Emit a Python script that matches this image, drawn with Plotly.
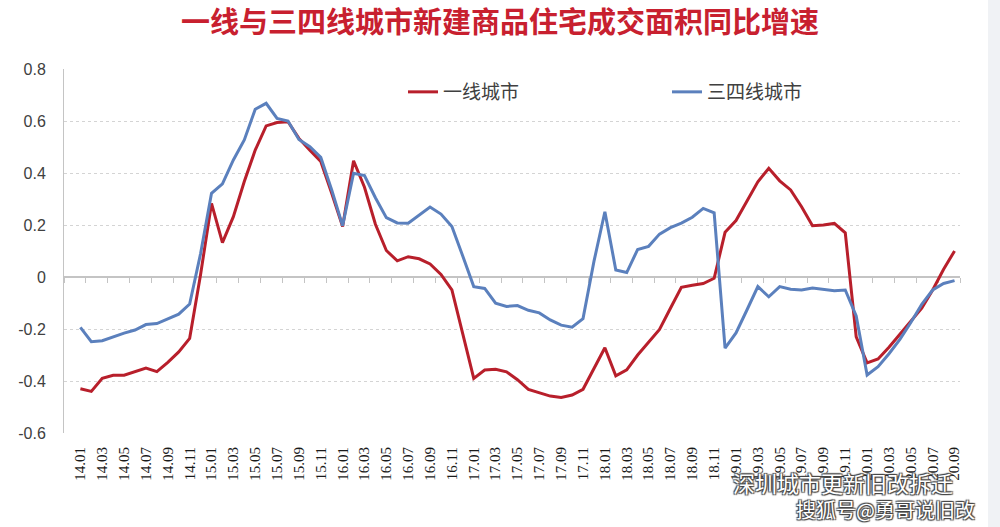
import plotly.graph_objects as go

# ---------------- data ----------------
months = [
    "14.01", "14.02", "14.03", "14.04", "14.05", "14.06", "14.07", "14.08", "14.09", "14.10", "14.11", "14.12",
    "15.01", "15.02", "15.03", "15.04", "15.05", "15.06", "15.07", "15.08", "15.09", "15.10", "15.11", "15.12",
    "16.01", "16.02", "16.03", "16.04", "16.05", "16.06", "16.07", "16.08", "16.09", "16.10", "16.11", "16.12",
    "17.01", "17.02", "17.03", "17.04", "17.05", "17.06", "17.07", "17.08", "17.09", "17.10", "17.11", "17.12",
    "18.01", "18.02", "18.03", "18.04", "18.05", "18.06", "18.07", "18.08", "18.09", "18.10", "18.11", "18.12",
    "19.01", "19.02", "19.03", "19.04", "19.05", "19.06", "19.07", "19.08", "19.09", "19.10", "19.11", "19.12",
    "20.01", "20.02", "20.03", "20.04", "20.05", "20.06", "20.07", "20.08", "20.09",
]

tier1 = [
    -0.430, -0.440, -0.390, -0.378, -0.378, -0.365, -0.350, -0.364, -0.328, -0.288, -0.236, 0.010,
    0.283, 0.132, 0.232, 0.367, 0.488, 0.581, 0.594, 0.597, 0.533, 0.488, 0.444, 0.322,
    0.194, 0.447, 0.345, 0.203, 0.102, 0.062, 0.078, 0.070, 0.050, 0.010, -0.050, -0.220,
    -0.390, -0.358, -0.355, -0.365, -0.395, -0.432, -0.445, -0.458, -0.463, -0.454, -0.432, -0.350,
    -0.272, -0.380, -0.357, -0.300, -0.252, -0.202, -0.120, -0.040, -0.032, -0.025, -0.005, 0.172,
    0.217, 0.290, 0.366, 0.418, 0.370, 0.335, 0.270, 0.197, 0.200, 0.206, 0.170, -0.230,
    -0.330, -0.315, -0.270, -0.220, -0.170, -0.120, -0.050, 0.030, 0.100,
]

tier34 = [
    -0.194, -0.249, -0.245, -0.229, -0.216, -0.204, -0.183, -0.179, -0.161, -0.143, -0.104, 0.090,
    0.322, 0.358, 0.450, 0.527, 0.645, 0.668, 0.610, 0.600, 0.529, 0.501, 0.460, 0.335,
    0.197, 0.399, 0.390, 0.305, 0.228, 0.208, 0.207, 0.238, 0.269, 0.242, 0.194, 0.080,
    -0.037, -0.044, -0.101, -0.113, -0.110, -0.128, -0.138, -0.165, -0.185, -0.193, -0.160, 0.060,
    0.251, 0.027, 0.017, 0.106, 0.118, 0.165, 0.190, 0.207, 0.230, 0.264, 0.247, -0.274,
    -0.215, -0.127, -0.037, -0.076, -0.037, -0.047, -0.050, -0.042, -0.047, -0.053, -0.050, -0.150,
    -0.377, -0.345, -0.295, -0.240, -0.175, -0.105, -0.050, -0.025, -0.014,
]

series_names = ["一线城市", "三四线城市"]
y_tick_vals = [-0.6, -0.4, -0.2, 0, 0.2, 0.4, 0.6, 0.8]
y_tick_text = ["-0.6", "-0.4", "-0.2", "0", "0.2", "0.4", "0.6", "0.8"]
title_text = "一线与三四线城市新建商品住宅成交面积同比增速"
watermark_1 = "深圳城市更新旧改拆迁"
watermark_2 = "搜狐号@勇哥说旧改"

# ---------------- style ----------------
W, H = 1000, 527
ML, MR, MT, MB = 64, 40, 69, 94
PW, PH = W - ML - MR, H - MT - MB
RED = "#b81f2b"
BLUE = "#5b80bd"
GRID = "#d4d4d4"
AXIS = "#c4c4c4"
CJK = "Noto Sans CJK SC"


def px_x(px):
    return (px - ML) / PW


def px_y(py):
    return (H - MB - py) / PH


x_idx = list(range(len(months)))
label_pos = x_idx[::2]
label_text = months[::2]
boundary_ticks = [k + 0.5 for k in range(-2, len(months), 2)]

fig = go.Figure()
fig.add_trace(go.Scatter(
    x=x_idx, y=tier1, mode="lines", name=series_names[0],
    line=dict(color=RED, width=3), legend="legend", hoverinfo="x+y",
))
fig.add_trace(go.Scatter(
    x=x_idx, y=tier34, mode="lines", name=series_names[1],
    line=dict(color=BLUE, width=3), legend="legend2", xaxis="x2", hoverinfo="x+y",
))

fig.update_layout(
    width=W, height=H,
    margin=dict(l=ML, r=MR, t=MT, b=MB),
    paper_bgcolor="white", plot_bgcolor="white",
    title=dict(
        text=title_text, x=0.5, xref="container", xanchor="center",
        y=1 - 23 / H, yref="container", yanchor="middle",
        font=dict(family=CJK, size=29, color="#c8202f", weight="bold"),
    ),
    xaxis=dict(
        range=[-1.5, 80.5], tickmode="array", tickvals=label_pos, ticktext=label_text,
        tickangle=-90, showgrid=False, zeroline=False, showline=False, ticks="",
        ticklabelstandoff=10,
        tickfont=dict(family="Liberation Serif", size=15, color="#1a1a1a"),
    ),
    xaxis2=dict(
        overlaying="x", matches="x", anchor="free", position=0.6 / 1.4, side="bottom",
        tickmode="array", tickvals=boundary_ticks, showticklabels=False,
        ticks="outside", ticklen=5, tickwidth=1, tickcolor=AXIS,
        showgrid=False, zeroline=False, showline=False, layer="below traces",
    ),
    yaxis=dict(
        range=[-0.6, 0.8], tickmode="array", tickvals=y_tick_vals, ticktext=y_tick_text,
        showgrid=True, gridcolor=GRID, griddash="dot", gridwidth=1,
        zeroline=True, zerolinecolor=AXIS, zerolinewidth=1.5,
        showline=True, linecolor=AXIS, linewidth=1, ticks="", ticklabelstandoff=14,
        tickfont=dict(family="Liberation Sans", size=16, color="#404040"),
    ),
    legend=dict(
        x=px_x(403), y=px_y(92), xanchor="left", yanchor="middle", orientation="h",
        font=dict(family=CJK, size=19, color="#404040"), bgcolor="rgba(0,0,0,0)",
    ),
    legend2=dict(
        x=px_x(667), y=px_y(92), xanchor="left", yanchor="middle", orientation="h",
        font=dict(family=CJK, size=19, color="#404040"), bgcolor="rgba(0,0,0,0)",
    ),
    showlegend=True,
)

shadow = "1px 1px 1px #444, -1px -1px 1px #444, 1px -1px 1px #444, -1px 1px 1px #444"
fig.add_annotation(
    text=watermark_1, xref="paper", yref="paper", x=px_x(843), y=px_y(482),
    showarrow=False, xanchor="center", yanchor="middle",
    font=dict(family=CJK, size=22, color="white", shadow=shadow),
)
fig.add_annotation(
    text=watermark_2, xref="paper", yref="paper", x=px_x(885), y=px_y(510),
    showarrow=False, xanchor="center", yanchor="middle",
    font=dict(family=CJK, size=20, color="white", shadow=shadow),
)
fig.add_shape(
    type="rect", xref="paper", yref="paper", x0=px_x(988), x1=px_x(1000),
    y0=px_y(527), y1=px_y(0), line=dict(width=0), fillcolor="#f0f2f5", layer="below",
)

fig.write_html(
    "out.html",
    config={"displayModeBar": False},
    post_script="document.body.style.margin='0px';document.body.style.padding='0px';",
)
